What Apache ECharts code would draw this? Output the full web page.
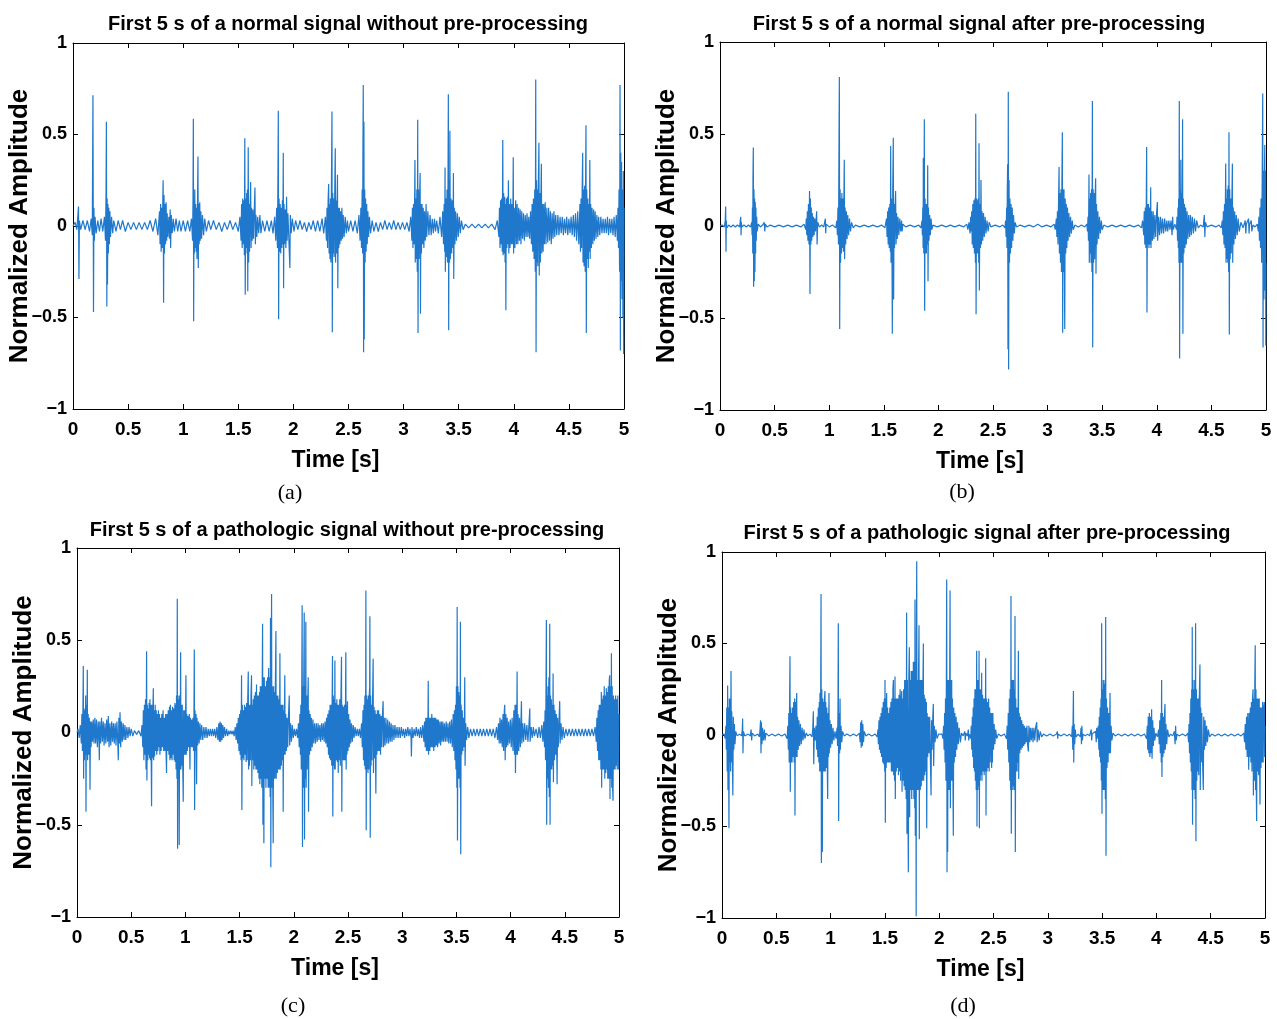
<!DOCTYPE html>
<html><head><meta charset="utf-8">
<script src="https://cdn.jsdelivr.net/npm/echarts@6/dist/echarts.min.js"></script>
<style>html,body{margin:0;padding:0;background:#fff}#c{width:1277px;height:1019px}</style>
</head><body><div id="c"></div>
<script>
// ---- text ----
const titles = [
  'First 5 s of a normal signal without pre-processing',
  'First 5 s of a normal signal after pre-processing',
  'First 5 s of a pathologic signal without pre-processing',
  'First 5 s of a pathologic signal after pre-processing'
];
const captions = ['(a)', '(b)', '(c)', '(d)'];
const xName = 'Time [s]';
const yName = 'Normalized Amplitude';
const xTicks = [0, 0.5, 1, 1.5, 2, 2.5, 3, 3.5, 4, 4.5, 5];
const yTicks = [-1, -0.5, 0, 0.5, 1];

// ---- signals: flat [time, amplitude, time, amplitude, ...] ----
const sigA = [
0,0, 0.02,0.02, 0.035,-0.02, 0.05,0.107, 0.054,-0.29, 0.058,0.03, 0.07,-0.02, 0.09,0.03, 0.11,-0.02, 0.13,0.03, 0.15,-0.03, 0.165,0.04, 0.175,-0.05,
0.181,0.714, 0.186,-0.47, 0.19,0.1, 0.194,-0.08, 0.2,0.05, 0.21,-0.04, 0.225,0.03, 0.24,-0.03, 0.255,0.04, 0.27,-0.03, 0.285,0.05, 0.295,-0.08,
0.3,0.2, 0.303,0.57, 0.307,-0.44, 0.31,0.15, 0.313,-0.32, 0.317,0.12, 0.321,-0.15, 0.325,0.1, 0.33,-0.1, 0.335,0.08, 0.34,-0.06, 0.35,0.05, 0.36,-0.04, 0.37,0.03,
0.39,-0.03, 0.41,0.03, 0.43,-0.02, 0.45,0.03, 0.475,-0.03, 0.5,0.02, 0.525,-0.02, 0.55,0.02, 0.575,-0.02, 0.6,0.02, 0.625,-0.02, 0.65,0.02, 0.675,-0.02, 0.7,0.03, 0.725,-0.03, 0.75,0.04, 0.77,-0.05,
0.785,0.08, 0.79,-0.1, 0.795,0.12, 0.8,-0.14, 0.805,0.1, 0.81,-0.12, 0.815,0.15, 0.818,0.25, 0.822,-0.42, 0.826,0.17, 0.83,-0.15, 0.835,0.12, 0.84,-0.1, 0.845,0.13, 0.85,-0.08, 0.855,0.07, 0.86,-0.06, 0.87,0.05, 0.875,-0.07, 0.882,0.09, 0.886,-0.12, 0.892,0.06, 0.9,-0.04,
0.91,0.04, 0.92,-0.03, 0.935,0.04, 0.95,-0.03, 0.965,0.03, 0.98,-0.03, 1.0,0.03, 1.02,-0.03, 1.04,0.03, 1.06,-0.03, 1.075,0.04, 1.085,-0.08,
1.089,0.15, 1.092,0.586, 1.095,-0.52, 1.098,0.12, 1.101,-0.15, 1.105,0.2, 1.108,-0.12, 1.113,0.12, 1.117,-0.14, 1.121,0.1, 1.125,-0.18, 1.13,0.14, 1.134,0.38, 1.137,-0.23, 1.14,0.12, 1.145,-0.1, 1.15,0.13, 1.155,-0.08, 1.16,0.08, 1.167,-0.07, 1.175,0.06, 1.185,-0.05, 1.195,0.04, 1.21,-0.03,
1.23,0.03, 1.25,-0.02, 1.275,0.03, 1.3,-0.02, 1.325,0.02, 1.35,-0.03, 1.375,0.02, 1.4,-0.02, 1.425,0.03, 1.45,-0.02, 1.475,0.02, 1.5,-0.03, 1.515,0.05,
1.525,-0.08, 1.53,0.12, 1.535,-0.12, 1.54,0.15, 1.545,-0.1, 1.55,0.14, 1.555,-0.16, 1.559,0.48, 1.563,-0.375, 1.567,0.15, 1.572,-0.12, 1.576,0.18, 1.58,-0.15, 1.583,0.2, 1.586,-0.357, 1.59,0.43, 1.594,-0.2, 1.598,0.12, 1.602,-0.14, 1.607,0.1, 1.612,0.24, 1.616,-0.12, 1.62,0.1, 1.626,-0.08, 1.632,0.09, 1.638,-0.07, 1.644,0.07, 1.651,0.21, 1.655,-0.1, 1.66,0.06, 1.668,-0.06, 1.676,0.05, 1.685,-0.04, 1.696,0.06, 1.705,-0.04,
1.72,0.03, 1.74,-0.03, 1.76,0.03, 1.78,-0.03, 1.8,0.03, 1.815,-0.04, 1.83,0.05, 1.84,-0.08, 1.848,0.1, 1.855,-0.12,
1.86,0.3, 1.863,0.63, 1.866,-0.51, 1.87,0.15, 1.875,-0.14, 1.88,0.12, 1.885,-0.15, 1.89,0.1, 1.895,-0.12, 1.9,0.14, 1.904,-0.1, 1.908,0.4, 1.911,-0.34, 1.915,0.12, 1.92,-0.1, 1.926,0.09, 1.932,-0.12, 1.938,0.16, 1.943,-0.08, 1.95,0.07, 1.958,-0.06, 1.968,-0.23, 1.972,0.06, 1.98,-0.04, 1.99,0.04,
2.005,-0.03, 2.02,0.03, 2.04,-0.02, 2.06,0.03, 2.08,-0.02, 2.1,0.02, 2.12,-0.03, 2.14,0.02, 2.16,-0.02, 2.18,0.03, 2.2,-0.03, 2.22,0.03, 2.24,-0.03, 2.26,0.04, 2.275,-0.04, 2.29,0.05,
2.3,-0.08, 2.305,0.1, 2.31,-0.12, 2.315,0.14, 2.32,0.23, 2.324,-0.15, 2.328,0.12, 2.332,-0.18, 2.336,0.15, 2.34,-0.2, 2.345,0.2, 2.35,0.625, 2.353,-0.58, 2.357,0.18, 2.361,-0.15, 2.365,0.15, 2.37,-0.17, 2.375,0.18, 2.38,0.425, 2.383,-0.2, 2.387,0.14, 2.392,-0.15, 2.396,0.12, 2.4,0.28, 2.403,-0.34, 2.407,0.1, 2.412,-0.12, 2.417,0.1, 2.422,-0.1, 2.428,0.08, 2.434,-0.08, 2.44,0.1, 2.446,-0.07, 2.452,0.06, 2.46,-0.06, 2.47,0.05, 2.48,-0.04, 2.49,0.03,
2.5,-0.03, 2.52,0.03, 2.54,-0.03, 2.56,0.03, 2.58,-0.04, 2.595,0.06, 2.605,-0.08, 2.612,0.1, 2.618,-0.12, 2.624,0.2, 2.628,-0.15, 2.631,0.44, 2.634,0.77, 2.637,-0.69, 2.64,0.57, 2.643,-0.62, 2.647,0.2, 2.651,-0.2, 2.655,0.15, 2.66,-0.14, 2.665,0.12, 2.67,-0.1, 2.676,0.08, 2.682,-0.06, 2.69,0.05, 2.7,-0.04, 2.715,0.03,
2.73,-0.03, 2.75,0.02, 2.77,-0.03, 2.79,0.02, 2.81,-0.02, 2.83,0.03, 2.85,-0.02, 2.87,0.02, 2.89,-0.02, 2.91,0.03, 2.93,-0.02, 2.95,0.02, 2.97,-0.02, 2.99,0.02, 3.01,-0.02, 3.03,0.02, 3.05,-0.03, 3.065,0.05,
3.075,-0.08, 3.08,0.1, 3.085,-0.12, 3.09,0.12, 3.095,-0.1, 3.1,0.15, 3.103,0.36, 3.106,-0.2, 3.11,0.15, 3.115,-0.18, 3.12,0.2, 3.124,-0.25, 3.128,0.58, 3.131,-0.585, 3.135,0.2, 3.14,-0.18, 3.145,0.15, 3.15,0.29, 3.153,-0.48, 3.157,0.12, 3.162,-0.15, 3.167,0.12, 3.172,-0.1, 3.178,0.1, 3.184,-0.12, 3.19,0.08, 3.197,-0.08, 3.204,0.12, 3.21,-0.06, 3.22,0.08, 3.23,-0.05, 3.24,0.06, 3.25,-0.05, 3.26,0.04, 3.27,-0.04, 3.28,0.04, 3.29,-0.03, 3.3,0.03, 3.315,-0.04, 3.33,0.05, 3.345,-0.06,
3.355,0.08, 3.362,-0.1, 3.368,0.12, 3.373,-0.14, 3.376,0.32, 3.379,-0.25, 3.384,0.15, 3.389,-0.17, 3.394,0.2, 3.398,-0.2, 3.403,0.25, 3.406,0.72, 3.409,-0.57, 3.413,0.25, 3.417,-0.2, 3.42,0.52, 3.424,-0.18, 3.43,0.15, 3.436,-0.15, 3.442,0.14, 3.448,-0.12, 3.452,0.29, 3.455,-0.29, 3.46,0.1, 3.466,-0.1, 3.472,0.08, 3.48,-0.08, 3.488,0.07, 3.496,-0.06, 3.505,0.05, 3.515,-0.04, 3.525,0.03, 3.54,-0.02,
3.56,0.01, 3.59,-0.01, 3.62,0.01, 3.65,-0.01, 3.68,0.01, 3.71,-0.01, 3.74,0.01, 3.77,-0.01, 3.8,0.01, 3.83,-0.02, 3.85,0.03,
3.865,-0.06, 3.87,0.1, 3.875,-0.12, 3.88,0.14, 3.885,-0.1, 3.89,0.15, 3.895,-0.14, 3.9,0.47, 3.903,-0.16, 3.908,0.18, 3.912,-0.15, 3.917,0.16, 3.921,-0.2, 3.925,0.12, 3.928,-0.46, 3.932,0.15, 3.937,-0.12, 3.942,0.16, 3.947,-0.1, 3.951,0.25, 3.955,-0.15, 3.96,0.12, 3.966,-0.12, 3.972,0.15, 3.978,-0.1, 3.984,0.12, 3.99,-0.1, 3.995,0.375, 3.998,-0.15,
4.004,0.1, 4.01,-0.12, 4.017,0.14, 4.024,-0.1, 4.03,0.12, 4.037,-0.1, 4.044,0.1, 4.051,-0.08, 4.058,0.09, 4.065,-0.1, 4.072,0.08, 4.08,-0.07, 4.088,0.07, 4.096,-0.08, 4.104,0.06, 4.112,-0.06, 4.12,0.07, 4.128,-0.06, 4.136,0.05, 4.144,-0.07, 4.152,0.08, 4.16,-0.1, 4.166,0.12, 4.172,-0.14, 4.178,0.15, 4.184,-0.18, 4.19,0.2, 4.195,-0.25,
4.199,0.8, 4.202,-0.69, 4.206,0.25, 4.21,-0.2, 4.214,0.2, 4.218,-0.22, 4.222,0.2, 4.228,0.455, 4.231,-0.27, 4.236,0.18, 4.241,-0.2, 4.246,0.16, 4.25,0.34, 4.254,-0.15, 4.26,0.12, 4.266,-0.14, 4.272,0.12, 4.278,-0.1, 4.285,0.13, 4.292,-0.1, 4.3,0.1, 4.308,-0.09, 4.316,0.1, 4.324,-0.08, 4.332,0.08, 4.34,-0.1, 4.348,0.07, 4.356,-0.07, 4.364,0.08, 4.372,-0.06, 4.38,0.06, 4.39,-0.05,
4.4,0.06, 4.41,-0.05, 4.42,0.05, 4.43,-0.04, 4.44,0.05, 4.45,-0.05, 4.46,0.04, 4.47,-0.04, 4.48,0.05, 4.49,-0.05, 4.5,0.04, 4.51,-0.04, 4.52,0.05, 4.53,-0.05, 4.54,0.06, 4.55,-0.06, 4.56,0.07, 4.57,-0.08, 4.58,0.08, 4.59,-0.1,
4.6,0.12, 4.605,-0.14, 4.61,0.15, 4.615,-0.12, 4.62,0.18, 4.625,0.4, 4.628,-0.2, 4.633,0.2, 4.638,-0.22, 4.643,0.22, 4.648,-0.25, 4.652,0.3, 4.655,0.55, 4.658,-0.585, 4.662,0.2, 4.667,-0.18, 4.672,0.15, 4.676,-0.23, 4.68,0.12, 4.685,-0.14, 4.69,0.36, 4.693,-0.18, 4.698,0.12, 4.704,-0.12, 4.71,0.1, 4.717,-0.1, 4.724,0.09, 4.731,-0.08, 4.738,0.08, 4.746,-0.07, 4.754,0.06, 4.762,-0.06, 4.77,0.05, 4.78,-0.05,
4.79,0.05, 4.8,-0.04, 4.81,0.04, 4.82,-0.04, 4.83,0.04, 4.84,-0.04, 4.85,0.05, 4.86,-0.05, 4.87,0.04, 4.88,-0.04, 4.89,0.04, 4.9,-0.05, 4.91,0.05, 4.92,-0.06, 4.93,0.06, 4.94,-0.08, 4.945,0.1, 4.95,-0.12, 4.955,0.2, 4.96,-0.25,
4.964,0.77, 4.967,-0.68, 4.971,0.4, 4.974,-0.3, 4.978,0.35, 4.982,-0.4, 4.986,0.2, 4.99,-0.5, 4.994,0.3, 4.997,-0.7, 5.0,0.1
];

const sigB = [
0,0, 0.02,0.005, 0.04,-0.005, 0.048,0.03, 0.052,0.106, 0.055,-0.14, 0.058,0.03, 0.062,-0.01, 0.08,0.005, 0.1,-0.005, 0.12,0.005, 0.14,-0.005, 0.16,0.005, 0.18,-0.005,
0.186,0.03, 0.19,0.05, 0.193,-0.05, 0.196,0.02, 0.2,-0.005, 0.22,0.005, 0.24,-0.005, 0.26,0.005, 0.28,-0.005, 0.29,0.02, 0.294,-0.05,
0.297,0.1, 0.3,-0.15, 0.302,0.27, 0.305,0.426, 0.308,-0.33, 0.311,0.2, 0.314,-0.3, 0.317,0.15, 0.32,-0.25, 0.323,0.13, 0.326,-0.15, 0.329,0.1, 0.332,-0.08, 0.336,0.05, 0.34,-0.03, 0.35,0.01, 0.37,-0.005, 0.39,0.005,
0.405,0.02, 0.41,-0.03, 0.415,0.01, 0.43,-0.005, 0.46,0.005, 0.5,-0.005, 0.54,0.005, 0.58,-0.005, 0.62,0.005, 0.66,-0.005, 0.7,0.005, 0.74,-0.005, 0.77,0.01, 0.785,-0.02,
0.79,0.04, 0.795,-0.05, 0.8,0.08, 0.805,-0.08, 0.81,0.12, 0.815,-0.1, 0.82,0.19, 0.824,-0.37, 0.828,0.15, 0.832,-0.1, 0.836,0.1, 0.84,-0.08, 0.845,0.07, 0.85,-0.06, 0.856,0.05, 0.862,-0.05, 0.868,0.04, 0.874,-0.03, 0.885,0.08, 0.889,-0.1, 0.895,0.02,
0.91,-0.005, 0.93,0.005, 0.95,-0.005, 0.965,0.04, 0.968,-0.04, 0.972,0.01, 1.0,-0.005, 1.03,0.005, 1.06,-0.01,
1.07,0.03, 1.075,-0.05, 1.08,0.1, 1.085,-0.1, 1.09,0.5, 1.093,0.81, 1.096,-0.56, 1.1,0.2, 1.104,-0.2, 1.108,0.15, 1.112,-0.15, 1.116,0.18, 1.12,-0.12, 1.125,0.15, 1.13,-0.14, 1.134,0.12, 1.138,0.36, 1.141,-0.18, 1.146,0.1, 1.151,-0.1, 1.157,0.08, 1.164,-0.07, 1.17,0.06, 1.178,-0.05, 1.186,0.04, 1.195,-0.03, 1.205,0.02, 1.22,-0.01, 1.24,0.005,
1.28,-0.005, 1.32,0.005, 1.36,-0.005, 1.4,0.005, 1.44,-0.005, 1.48,0.005, 1.51,-0.01,
1.525,0.04, 1.53,-0.06, 1.535,0.08, 1.54,-0.1, 1.545,0.1, 1.55,-0.12, 1.555,0.12, 1.56,-0.14, 1.563,0.435, 1.566,-0.2, 1.57,0.15, 1.575,-0.15, 1.578,-0.585, 1.582,0.2, 1.587,0.48, 1.59,-0.4, 1.594,0.12, 1.598,-0.12, 1.603,0.1, 1.608,0.19, 1.612,-0.1, 1.617,0.07, 1.623,-0.07, 1.63,0.05, 1.638,-0.05, 1.646,0.04, 1.655,-0.03, 1.663,0.03, 1.667,-0.03, 1.675,0.01, 1.7,-0.005,
1.74,0.005, 1.78,-0.005, 1.82,0.005, 1.84,-0.01, 1.85,0.03,
1.853,-0.05, 1.857,0.1, 1.86,-0.12, 1.862,0.37, 1.866,-0.15, 1.869,0.2, 1.871,0.58, 1.874,-0.46, 1.878,0.15, 1.882,-0.15, 1.886,0.12, 1.89,-0.15, 1.894,0.12, 1.898,-0.1, 1.902,0.33, 1.905,-0.3, 1.909,0.1, 1.914,-0.08, 1.92,0.06, 1.926,-0.05, 1.933,0.04, 1.94,-0.02, 1.95,0.005,
1.99,-0.005, 2.03,0.005, 2.07,-0.005, 2.11,0.005, 2.15,-0.005, 2.19,0.005, 2.23,-0.005, 2.26,0.01, 2.27,-0.02, 2.28,0.02,
2.29,-0.04, 2.295,0.05, 2.3,-0.03, 2.305,0.08, 2.31,-0.1, 2.315,0.12, 2.32,-0.12, 2.325,0.14, 2.33,-0.15, 2.335,0.15, 2.339,-0.2, 2.342,0.61, 2.345,-0.48, 2.349,0.15, 2.353,-0.15, 2.357,0.14, 2.361,-0.15, 2.365,0.15, 2.369,-0.2, 2.372,0.45, 2.375,-0.35, 2.38,0.12, 2.385,-0.12, 2.39,0.25, 2.394,-0.1, 2.4,0.08, 2.406,-0.08, 2.413,0.07, 2.42,-0.06, 2.428,0.05, 2.436,-0.04, 2.445,0.03, 2.455,-0.03, 2.465,0.02, 2.48,-0.005,
2.52,0.005, 2.56,-0.005, 2.59,0.005, 2.61,-0.01, 2.615,0.03,
2.62,-0.06, 2.625,0.1, 2.628,-0.12, 2.631,0.2, 2.634,0.335, 2.637,-0.67, 2.64,0.73, 2.643,-0.78, 2.647,0.25, 2.651,-0.2, 2.655,0.15, 2.66,-0.15, 2.665,0.12, 2.67,-0.12, 2.676,0.1, 2.682,-0.08, 2.688,0.06, 2.695,-0.04, 2.703,0.02, 2.715,-0.005,
2.75,0.005, 2.79,-0.005, 2.83,0.005, 2.87,-0.005, 2.91,0.01, 2.95,-0.005, 2.99,0.005, 3.03,-0.005, 3.06,0.01, 3.07,-0.02,
3.08,0.04, 3.085,-0.06, 3.09,0.08, 3.095,-0.1, 3.1,0.12, 3.105,0.32, 3.108,-0.15, 3.113,0.18, 3.118,-0.2, 3.123,0.2, 3.127,-0.25, 3.131,0.25, 3.135,0.51, 3.138,-0.58, 3.142,0.2, 3.146,-0.25, 3.15,0.2, 3.154,0.21, 3.157,-0.56, 3.161,0.15, 3.166,-0.15, 3.171,0.12, 3.176,-0.12, 3.182,0.1, 3.188,-0.08, 3.195,0.07, 3.202,-0.06, 3.21,0.05, 3.218,-0.04, 3.226,0.03, 3.235,-0.02, 3.25,0.005,
3.28,-0.005, 3.31,0.005, 3.34,-0.005, 3.36,0.01, 3.365,-0.03,
3.37,0.05, 3.374,-0.08, 3.377,0.12, 3.379,0.28, 3.382,-0.2, 3.386,0.15, 3.39,-0.15, 3.394,0.18, 3.398,-0.2, 3.402,0.2, 3.406,-0.25, 3.41,0.68, 3.413,-0.66, 3.417,0.2, 3.421,-0.2, 3.425,0.18, 3.43,-0.18, 3.435,0.15, 3.44,0.26, 3.443,-0.26, 3.448,0.12, 3.453,-0.1, 3.46,0.08, 3.467,-0.07, 3.475,0.05, 3.483,-0.04, 3.492,0.03, 3.5,-0.02, 3.515,0.005,
3.55,-0.005, 3.59,0.005, 3.63,-0.005, 3.67,0.005, 3.71,-0.005, 3.75,0.005, 3.79,-0.005, 3.83,0.005, 3.86,-0.01, 3.87,0.03,
3.88,-0.05, 3.885,0.08, 3.89,-0.1, 3.895,0.1, 3.9,-0.12, 3.904,0.15, 3.907,0.43, 3.91,-0.47, 3.914,0.12, 3.918,-0.1, 3.923,0.12, 3.928,-0.12, 3.933,0.1, 3.938,-0.1, 3.944,0.21, 3.947,-0.12, 3.953,0.08, 3.96,-0.08, 3.967,0.08, 3.974,-0.07, 3.982,0.06, 3.99,-0.06, 3.998,0.07, 4.005,0.13, 4.008,-0.08, 4.016,0.05, 4.025,-0.05, 4.034,0.05, 4.043,-0.04, 4.052,0.04, 4.062,-0.04, 4.072,0.04, 4.082,-0.03, 4.092,0.03, 4.1,-0.03, 4.11,0.03, 4.12,-0.02, 4.13,0.03, 4.14,-0.05, 4.145,0.05, 4.15,-0.02, 4.165,0.01, 4.18,-0.02,
4.185,0.05, 4.19,-0.08, 4.194,0.1, 4.197,-0.12, 4.2,0.15, 4.203,-0.2, 4.206,0.68, 4.209,-0.72, 4.213,0.2, 4.217,-0.2, 4.22,0.36, 4.224,-0.2, 4.228,0.18, 4.232,-0.2, 4.236,0.58, 4.239,-0.585, 4.243,0.15, 4.248,-0.15, 4.253,0.12, 4.258,-0.12, 4.264,0.1, 4.27,-0.1, 4.277,0.08, 4.284,-0.07, 4.292,0.06, 4.3,-0.06, 4.308,0.06, 4.316,-0.05, 4.325,0.05, 4.335,-0.04, 4.345,0.04, 4.355,-0.03, 4.365,0.03, 4.38,-0.01, 4.4,0.005, 4.425,-0.005, 4.435,0.06, 4.44,-0.06, 4.445,0.02, 4.46,-0.005,
4.5,0.005, 4.54,-0.005, 4.57,0.005, 4.59,-0.01,
4.6,0.03, 4.605,-0.05, 4.61,0.08, 4.615,-0.1, 4.62,0.12, 4.625,-0.12, 4.631,0.34, 4.634,-0.2, 4.638,0.15, 4.642,-0.18, 4.646,0.2, 4.65,-0.2, 4.654,0.22, 4.658,-0.25, 4.661,0.51, 4.664,-0.59, 4.668,0.2, 4.672,-0.18, 4.677,0.15, 4.682,-0.15, 4.687,0.12, 4.692,0.34, 4.695,-0.2, 4.7,0.1, 4.706,-0.1, 4.713,0.08, 4.72,-0.07, 4.728,0.06, 4.736,-0.05, 4.745,0.04, 4.755,-0.03, 4.77,0.02, 4.79,-0.01,
4.81,0.03, 4.815,-0.04, 4.82,0.01, 4.84,0.04, 4.845,-0.04, 4.85,0.01, 4.865,0.03, 4.87,-0.03, 4.88,0.005, 4.9,-0.005, 4.92,0.01, 4.93,-0.03, 4.935,0.05,
4.94,-0.08, 4.945,0.1, 4.95,-0.12, 4.955,0.15, 4.96,-0.2, 4.965,0.25, 4.97,0.72, 4.973,-0.66, 4.977,0.3, 4.981,-0.4, 4.985,0.25, 4.989,0.44, 4.992,-0.35, 4.996,0.3, 4.998,-0.65, 5.0,-0.2
];

const sigC = [
0,0, 0.01,0.02, 0.02,-0.03, 0.03,0.04, 0.04,-0.06, 0.045,0.1, 0.05,-0.1, 0.055,0.15, 0.058,0.36, 0.061,-0.25, 0.065,0.12, 0.069,-0.15, 0.073,0.13, 0.077,-0.12, 0.08,0.2, 0.083,-0.43, 0.087,0.15, 0.091,-0.12, 0.095,0.34, 0.098,-0.15, 0.103,0.1, 0.108,-0.12, 0.113,0.08, 0.118,-0.08, 0.12,-0.31, 0.124,0.06, 0.13,-0.08,
0.136,0.06, 0.143,-0.05, 0.15,0.07, 0.157,-0.06, 0.165,0.08, 0.172,-0.06, 0.18,0.07, 0.188,-0.08, 0.196,0.06, 0.203,-0.05, 0.206,-0.15, 0.21,0.06, 0.218,-0.06, 0.226,0.08, 0.234,-0.05, 0.242,0.06, 0.25,-0.07, 0.258,0.05, 0.266,-0.06, 0.274,0.07, 0.282,-0.05, 0.289,0.09, 0.296,-0.08, 0.304,0.05, 0.312,-0.07, 0.32,0.06, 0.328,-0.05, 0.336,0.05, 0.344,-0.06, 0.352,0.05, 0.36,-0.07, 0.368,0.06, 0.376,-0.05, 0.381,-0.15, 0.386,0.08, 0.392,-0.06, 0.397,0.11, 0.403,-0.08, 0.41,0.06, 0.418,-0.05, 0.426,0.05, 0.434,-0.04, 0.442,0.04, 0.45,-0.04, 0.46,0.03, 0.47,-0.03, 0.48,0.03, 0.49,-0.02, 0.5,0.02, 0.515,-0.02, 0.53,0.01, 0.55,-0.01, 0.57,0.01, 0.59,-0.02, 0.6,0.04,
0.607,-0.08, 0.612,0.12, 0.617,-0.15, 0.622,0.15, 0.627,-0.12, 0.632,0.18, 0.637,-0.2, 0.642,0.44, 0.645,-0.26, 0.649,0.15, 0.653,-0.15, 0.657,0.13, 0.661,-0.12, 0.665,0.16, 0.669,-0.14, 0.673,0.18, 0.677,-0.15, 0.681,0.15, 0.685,-0.18, 0.688,-0.4, 0.692,0.15, 0.696,-0.14, 0.7,0.12, 0.704,0.24, 0.707,-0.15, 0.711,0.12, 0.716,-0.13, 0.721,0.15, 0.726,-0.1, 0.731,0.12, 0.736,-0.12, 0.741,0.1, 0.746,-0.1, 0.751,0.12, 0.756,-0.08, 0.761,0.1, 0.765,-0.12, 0.77,0.08, 0.776,-0.1, 0.782,0.1, 0.788,-0.08, 0.794,0.12, 0.8,-0.1, 0.806,0.08, 0.812,-0.1, 0.818,0.1, 0.822,-0.12, 0.826,-0.22, 0.83,0.1, 0.836,-0.1, 0.842,0.12, 0.848,-0.12, 0.853,0.14, 0.857,-0.15, 0.862,0.15, 0.867,-0.14, 0.872,0.12, 0.877,-0.15, 0.882,0.14, 0.887,-0.12, 0.892,0.13, 0.897,-0.15, 0.903,0.16, 0.906,-0.16, 0.91,0.15, 0.914,-0.2, 0.918,0.2, 0.922,-0.25,
0.925,0.725, 0.928,-0.63, 0.932,0.2, 0.936,-0.25, 0.94,0.18, 0.943,-0.61, 0.947,0.2, 0.951,-0.2, 0.956,0.435, 0.959,-0.2, 0.963,0.15, 0.967,-0.18, 0.971,0.15, 0.975,-0.15, 0.98,-0.375, 0.984,0.12, 0.989,-0.12, 0.994,0.12, 0.999,-0.12, 1.005,0.31, 1.008,-0.12, 1.013,0.1, 1.018,-0.1, 1.024,0.09, 1.03,-0.08, 1.036,0.1, 1.042,-0.2, 1.046,0.08, 1.052,-0.08, 1.058,0.07, 1.064,-0.08, 1.07,0.08, 1.075,-0.1, 1.079,0.12, 1.082,0.45, 1.085,-0.42, 1.089,0.12, 1.094,-0.1, 1.098,0.1, 1.103,-0.28, 1.107,0.08, 1.113,-0.07, 1.12,0.06, 1.127,-0.06, 1.134,0.05, 1.142,-0.04,
1.15,0.04, 1.16,-0.04, 1.17,0.03, 1.18,-0.03, 1.19,0.03, 1.2,-0.03, 1.21,0.02, 1.22,-0.02, 1.23,0.02, 1.24,-0.02, 1.25,0.02, 1.26,-0.02, 1.27,0.02, 1.28,-0.03, 1.29,0.03, 1.3,-0.04, 1.308,0.05, 1.314,-0.05, 1.32,0.06, 1.326,-0.05, 1.332,0.05, 1.338,-0.04, 1.345,0.04, 1.352,-0.03, 1.36,0.03, 1.37,-0.02, 1.38,0.02, 1.39,-0.02, 1.4,0.01, 1.41,-0.01, 1.42,0.01, 1.43,-0.01, 1.44,0.01, 1.45,-0.02, 1.46,0.03, 1.468,-0.04, 1.475,0.05, 1.482,-0.06, 1.488,0.08, 1.494,-0.1, 1.5,0.1, 1.505,-0.12, 1.51,0.12, 1.514,-0.15,
1.518,0.31, 1.521,-0.42, 1.525,0.15, 1.53,-0.14, 1.535,0.12, 1.54,-0.15, 1.545,0.15, 1.55,-0.12, 1.555,0.14, 1.56,-0.16, 1.565,0.16, 1.57,-0.15, 1.575,0.18, 1.58,0.33, 1.583,-0.2, 1.587,0.15, 1.591,-0.18, 1.595,0.15, 1.6,-0.15, 1.605,0.2, 1.61,0.31, 1.613,-0.29, 1.617,0.15, 1.621,-0.15, 1.626,0.18, 1.631,-0.2, 1.636,0.2, 1.641,-0.18, 1.646,0.22, 1.651,-0.2, 1.656,0.26, 1.659,-0.2, 1.664,0.2, 1.669,-0.22, 1.674,0.2, 1.679,-0.25, 1.684,0.22, 1.687,-0.28, 1.691,0.25, 1.695,-0.25, 1.7,0.25, 1.705,-0.3, 1.709,0.3,
1.712,0.59, 1.715,-0.5, 1.719,0.3, 1.724,-0.6, 1.728,0.3, 1.733,-0.25, 1.738,0.25, 1.743,-0.3, 1.748,0.28, 1.753,-0.25, 1.758,0.3, 1.763,-0.3, 1.768,0.35, 1.773,-0.3, 1.778,0.3, 1.782,-0.35, 1.785,0.62, 1.788,-0.73, 1.792,0.3, 1.795,0.75, 1.798,-0.3, 1.802,0.25, 1.806,-0.3, 1.81,-0.6, 1.814,0.25, 1.818,-0.25, 1.822,0.22, 1.826,-0.25, 1.83,0.25, 1.835,0.55, 1.838,-0.25, 1.843,0.2, 1.848,-0.22, 1.853,0.2, 1.858,-0.2, 1.863,0.18, 1.867,-0.2, 1.872,0.43, 1.875,-0.2, 1.88,0.15, 1.885,-0.18, 1.89,0.15, 1.895,-0.15, 1.9,0.15, 1.902,-0.43, 1.906,0.12, 1.911,-0.12, 1.917,0.31, 1.92,-0.12, 1.926,0.1, 1.932,-0.1, 1.938,0.08, 1.944,-0.08, 1.95,0.07, 1.958,0.2, 1.962,-0.07, 1.97,0.05, 1.978,-0.05, 1.986,0.04, 1.995,-0.03, 2.005,0.02, 2.015,-0.02, 2.025,0.02, 2.035,-0.03,
2.043,0.05, 2.05,-0.08, 2.056,0.1, 2.061,-0.12, 2.065,0.15, 2.069,-0.2, 2.073,0.2, 2.077,0.69, 2.08,-0.62, 2.084,0.25, 2.088,-0.3, 2.092,0.3, 2.096,0.65, 2.099,-0.58, 2.103,0.25, 2.107,-0.25, 2.111,0.6, 2.114,-0.3, 2.118,0.2, 2.123,-0.2, 2.128,0.15, 2.133,0.3, 2.136,-0.43, 2.14,0.12, 2.145,-0.12, 2.151,0.1, 2.157,-0.1, 2.163,0.08, 2.17,-0.08, 2.177,0.07, 2.184,-0.06, 2.192,0.05, 2.2,-0.06, 2.208,0.05, 2.216,-0.05, 2.224,0.05, 2.232,-0.04, 2.24,0.04, 2.248,-0.05, 2.256,0.05, 2.264,-0.04, 2.272,0.05, 2.28,-0.05, 2.288,0.06, 2.295,-0.06,
2.302,0.08, 2.308,-0.08, 2.314,0.1, 2.32,-0.12, 2.325,0.12, 2.33,-0.14, 2.335,0.15, 2.34,-0.15, 2.345,0.15, 2.35,-0.18, 2.354,0.2, 2.357,0.415, 2.36,-0.455, 2.364,0.2, 2.368,-0.18, 2.372,0.18, 2.376,-0.2, 2.379,0.39, 2.382,-0.2, 2.387,0.16, 2.392,-0.15, 2.397,0.18, 2.402,-0.16, 2.406,0.15, 2.41,-0.22, 2.414,0.15, 2.419,-0.15, 2.424,0.18, 2.429,-0.18, 2.434,0.16, 2.44,0.41, 2.443,-0.43, 2.447,0.15, 2.452,-0.15, 2.457,0.14, 2.462,-0.15, 2.467,0.15, 2.472,-0.15, 2.477,0.15, 2.48,0.435, 2.483,-0.2, 2.487,0.15, 2.49,-0.12, 2.495,0.17, 2.5,-0.1, 2.506,0.1, 2.512,-0.08, 2.518,0.07, 2.525,-0.06, 2.532,0.05, 2.54,-0.05, 2.548,0.04, 2.556,-0.03, 2.565,0.03, 2.575,-0.02, 2.585,0.02, 2.595,-0.02, 2.605,0.02, 2.615,-0.03,
2.625,0.05, 2.632,-0.08, 2.638,0.12, 2.643,-0.15, 2.648,0.15, 2.652,-0.18, 2.656,0.2, 2.66,-0.2, 2.663,0.25, 2.665,0.77, 2.668,-0.53, 2.672,0.2, 2.676,-0.2, 2.68,0.18, 2.684,-0.22, 2.688,0.2, 2.692,-0.2, 2.696,0.2, 2.7,0.25, 2.702,0.63, 2.705,-0.57, 2.709,0.2, 2.713,-0.18, 2.717,0.15, 2.721,-0.15, 2.726,0.15, 2.732,0.4, 2.735,-0.22, 2.74,0.14, 2.745,-0.14, 2.75,0.12, 2.757,-0.33, 2.761,0.1, 2.766,-0.12, 2.771,0.12, 2.776,-0.1, 2.782,0.12, 2.788,-0.1, 2.794,0.1, 2.8,-0.12, 2.806,0.09, 2.812,-0.08, 2.818,0.1, 2.824,0.17, 2.828,-0.08, 2.835,0.08, 2.842,-0.07, 2.85,0.08, 2.858,-0.06, 2.866,0.07, 2.874,-0.06, 2.882,0.06, 2.89,-0.05, 2.898,0.05, 2.906,-0.05, 2.915,0.04, 2.924,-0.04, 2.933,0.04, 2.942,-0.03, 2.952,0.03, 2.962,-0.03, 2.972,0.03, 2.982,-0.03, 2.992,0.03,
3.002,-0.02, 3.012,0.02, 3.022,-0.03, 3.032,0.02, 3.042,-0.02, 3.052,0.03, 3.062,-0.02, 3.072,0.02, 3.082,-0.03, 3.085,-0.13, 3.09,0.03, 3.1,-0.03, 3.11,0.02, 3.12,-0.02, 3.13,0.03, 3.14,-0.02, 3.15,0.02, 3.16,-0.03, 3.17,0.03, 3.18,-0.03, 3.19,0.04, 3.2,-0.05,
3.206,0.06, 3.212,-0.08, 3.218,0.08, 3.224,-0.1, 3.23,0.08, 3.236,-0.1, 3.24,0.28, 3.243,-0.12, 3.249,0.08, 3.255,-0.1, 3.261,0.08, 3.267,-0.08, 3.273,0.1, 3.279,-0.08, 3.285,0.08, 3.291,-0.1, 3.297,0.08, 3.303,-0.08, 3.309,0.08, 3.315,-0.07, 3.321,0.07, 3.327,-0.08, 3.333,0.07, 3.34,-0.06, 3.347,0.06, 3.354,-0.07, 3.361,0.06, 3.368,-0.05, 3.375,0.06, 3.382,-0.05, 3.39,0.05, 3.398,-0.05, 3.406,0.06, 3.414,-0.05, 3.422,0.05, 3.43,-0.06, 3.438,0.06, 3.446,-0.06, 3.454,0.07, 3.462,-0.08, 3.47,0.1, 3.476,-0.1, 3.482,0.12, 3.487,-0.15, 3.492,0.15, 3.496,-0.2, 3.5,0.25, 3.504,-0.3,
3.507,0.68, 3.51,-0.585, 3.514,0.25, 3.518,-0.25, 3.522,0.22, 3.526,-0.25, 3.53,0.2, 3.534,-0.3, 3.537,0.6, 3.54,-0.66, 3.544,0.15, 3.549,-0.12, 3.554,0.12, 3.56,-0.1, 3.566,0.08, 3.572,-0.08, 3.577,0.3, 3.58,-0.18, 3.586,0.05, 3.594,-0.04, 3.604,0.03, 3.615,-0.03,
3.63,0.02, 3.645,-0.02, 3.66,0.02, 3.675,-0.02, 3.69,0.02, 3.705,-0.02, 3.72,0.02, 3.735,-0.02, 3.75,0.02, 3.765,-0.02, 3.78,0.02, 3.795,-0.02, 3.81,0.02, 3.825,-0.02, 3.84,0.02, 3.855,-0.03, 3.87,0.03, 3.88,-0.04,
3.888,0.05, 3.895,-0.06, 3.902,0.08, 3.909,-0.06, 3.916,0.07, 3.923,-0.08, 3.93,0.1, 3.936,-0.1, 3.942,0.12, 3.946,0.15, 3.95,-0.15, 3.956,0.1, 3.962,-0.08, 3.968,0.08, 3.975,-0.07, 3.982,0.06, 3.99,-0.06, 3.998,0.07, 4.006,-0.08, 4.014,0.08, 4.022,-0.1, 4.03,0.12, 4.036,-0.12, 4.041,0.15, 4.045,-0.22, 4.05,0.15, 4.055,-0.12, 4.06,0.33, 4.063,-0.12, 4.069,0.1, 4.075,-0.1, 4.082,0.08, 4.09,-0.08, 4.1,0.17, 4.104,-0.06, 4.112,0.05, 4.12,-0.05, 4.13,0.05, 4.14,-0.04, 4.15,0.04, 4.16,-0.05, 4.17,0.05, 4.177,0.13, 4.18,-0.05, 4.19,0.03, 4.2,-0.03, 4.21,0.03, 4.22,-0.02, 4.235,0.02, 4.25,-0.03, 4.262,0.03, 4.275,-0.03, 4.288,0.04, 4.298,-0.05,
4.306,0.06, 4.313,-0.08, 4.318,0.12, 4.322,-0.15, 4.326,0.18, 4.33,0.61, 4.333,-0.5, 4.337,0.2, 4.341,-0.25, 4.345,0.25, 4.349,-0.3, 4.353,0.3, 4.357,-0.35, 4.361,0.59, 4.364,-0.5, 4.368,0.2, 4.372,-0.2, 4.376,0.18, 4.38,-0.2, 4.384,0.15, 4.388,-0.18, 4.392,0.32, 4.395,-0.27, 4.4,0.15, 4.405,-0.15, 4.41,0.12, 4.416,-0.12, 4.422,0.1, 4.429,-0.28, 4.433,0.08, 4.44,-0.08, 4.447,0.07, 4.453,0.17, 4.457,-0.06, 4.465,0.05, 4.474,-0.04, 4.484,0.03, 4.495,-0.03,
4.51,0.02, 4.525,-0.02, 4.54,0.02, 4.555,-0.02, 4.57,0.02, 4.585,-0.02, 4.6,0.02, 4.615,-0.02, 4.63,0.02, 4.645,-0.02, 4.66,0.02, 4.675,-0.02, 4.69,0.02, 4.705,-0.02, 4.72,0.02, 4.735,-0.02, 4.75,0.02, 4.765,-0.02, 4.78,0.03, 4.79,-0.05,
4.796,0.08, 4.802,-0.1, 4.808,0.12, 4.813,-0.15, 4.818,0.15, 4.823,-0.15, 4.828,0.15, 4.833,-0.2, 4.837,0.22, 4.84,-0.3, 4.844,0.18, 4.849,-0.2, 4.854,0.2, 4.859,-0.2, 4.864,0.25, 4.869,-0.25, 4.874,0.2, 4.878,-0.22, 4.883,0.24, 4.886,-0.2, 4.891,0.22, 4.896,-0.25, 4.901,0.25, 4.906,-0.25, 4.91,0.28, 4.914,0.31, 4.917,-0.36, 4.921,0.25, 4.926,-0.25, 4.93,0.43, 4.933,-0.3, 4.937,0.25, 4.941,-0.3, 4.945,-0.37, 4.949,0.2, 4.954,-0.2, 4.959,0.18, 4.964,-0.2, 4.969,0.2, 4.974,-0.18, 4.979,0.18, 4.984,-0.2, 4.989,0.2, 4.993,0.21, 4.997,-0.2, 5.0,0.1
];

const sigD = [
0,0, 0.02,0.005, 0.03,-0.02, 0.036,0.05, 0.04,-0.08, 0.044,0.15, 0.048,-0.2, 0.052,0.27, 0.055,-0.3, 0.059,0.15, 0.064,-0.51, 0.068,0.2, 0.072,-0.15, 0.076,0.2, 0.079,-0.2, 0.083,0.35, 0.086,-0.15, 0.09,0.13, 0.095,-0.12, 0.1,-0.33, 0.104,0.1, 0.109,-0.08, 0.114,0.06, 0.12,-0.05, 0.126,0.02,
0.14,-0.005, 0.16,0.005, 0.18,-0.005, 0.187,0.03, 0.19,0.09, 0.193,-0.1, 0.197,0.02, 0.21,-0.005, 0.24,0.005, 0.26,-0.005, 0.268,0.03, 0.273,-0.03, 0.278,0.01, 0.3,-0.005, 0.33,0.005, 0.345,-0.01, 0.35,0.03, 0.355,0.08, 0.359,-0.1, 0.363,0.07, 0.368,-0.05, 0.373,0.04, 0.38,-0.03, 0.39,0.03, 0.396,-0.03, 0.405,0.01,
0.43,-0.005, 0.46,0.005, 0.49,-0.005, 0.52,0.005, 0.55,-0.005, 0.58,0.005, 0.6,-0.02, 0.606,0.05,
0.611,-0.08, 0.615,0.12, 0.619,-0.15, 0.622,0.15, 0.626,0.43, 0.629,-0.31, 0.633,0.15, 0.637,-0.15, 0.641,0.12, 0.645,-0.15, 0.65,0.15, 0.655,-0.12, 0.66,0.18, 0.665,-0.15, 0.669,0.2, 0.672,-0.44, 0.676,0.18, 0.68,-0.12, 0.684,0.15, 0.688,0.23, 0.691,-0.12, 0.696,0.1, 0.702,-0.08, 0.708,0.08, 0.715,-0.06, 0.722,0.06, 0.73,-0.05, 0.738,0.04, 0.746,-0.03, 0.755,0.03, 0.764,-0.02, 0.775,0.01, 0.79,-0.005, 0.81,0.005, 0.83,-0.01,
0.836,0.04, 0.841,0.13, 0.845,-0.16, 0.85,0.04, 0.858,-0.03, 0.865,0.05, 0.872,-0.08, 0.877,0.1, 0.882,-0.12, 0.887,0.15, 0.892,-0.15, 0.896,0.18, 0.9,-0.2, 0.902,0.23, 0.906,-0.2, 0.909,0.25, 0.912,0.77, 0.915,-0.7, 0.919,0.25, 0.924,-0.64, 0.928,0.2, 0.932,-0.2, 0.936,0.18, 0.94,-0.2, 0.944,0.2, 0.948,0.24, 0.951,-0.2, 0.955,0.18, 0.96,-0.18, 0.965,0.15, 0.969,-0.15, 0.973,-0.35, 0.977,0.12, 0.981,-0.12, 0.985,0.23, 0.988,-0.1, 0.994,0.08, 1.0,-0.07, 1.007,0.06, 1.014,-0.05, 1.022,0.04, 1.03,-0.03, 1.04,0.02, 1.05,-0.02,
1.06,0.04, 1.064,-0.06, 1.068,0.15, 1.071,0.61, 1.074,-0.47, 1.078,0.12, 1.083,-0.1, 1.087,0.2, 1.09,-0.08, 1.096,0.05, 1.103,-0.04, 1.11,0.02, 1.125,-0.005, 1.15,0.005, 1.18,-0.005, 1.21,0.005, 1.24,-0.005, 1.265,0.01,
1.272,-0.04, 1.277,0.07, 1.282,-0.07, 1.287,0.08, 1.292,-0.06, 1.297,0.06, 1.303,-0.04, 1.31,0.02, 1.325,-0.005, 1.35,0.005, 1.38,-0.005, 1.41,0.005, 1.43,-0.01,
1.436,0.03, 1.44,-0.05, 1.445,0.08, 1.45,-0.08, 1.455,0.1, 1.46,-0.1, 1.465,0.12, 1.47,-0.12, 1.475,0.15, 1.48,-0.15, 1.485,0.18, 1.49,-0.16, 1.495,0.2, 1.498,-0.2, 1.501,0.3, 1.504,-0.48, 1.508,0.2, 1.512,-0.18, 1.516,0.23, 1.52,-0.15, 1.525,0.15, 1.53,-0.15, 1.535,0.12, 1.54,-0.15, 1.545,0.15, 1.55,-0.15, 1.555,0.18, 1.56,-0.2, 1.565,0.2, 1.57,-0.2, 1.574,0.25, 1.578,0.3, 1.581,-0.22, 1.585,0.2, 1.589,-0.25, 1.593,0.32, 1.596,-0.35, 1.6,0.2, 1.605,-0.2, 1.61,0.2, 1.615,-0.18, 1.62,0.2, 1.625,-0.22, 1.63,0.22, 1.635,-0.2, 1.64,0.25, 1.645,-0.25, 1.65,0.2, 1.655,0.24, 1.658,-0.31, 1.662,0.2, 1.667,-0.25, 1.672,0.25, 1.677,-0.28, 1.682,0.3, 1.687,-0.3, 1.692,0.3, 1.696,-0.35,
1.7,0.67, 1.703,-0.54, 1.707,0.3, 1.711,-0.3, 1.716,-0.75, 1.72,0.3, 1.725,0.48, 1.728,-0.45, 1.732,0.3, 1.737,-0.3, 1.742,0.35, 1.747,-0.35, 1.752,0.35, 1.757,-0.3, 1.762,0.4, 1.767,-0.35, 1.772,0.4, 1.775,-0.4, 1.777,0.74, 1.78,-0.55, 1.784,0.4, 1.788,-0.99, 1.79,0.5, 1.793,0.95, 1.796,-0.3, 1.8,0.3, 1.805,-0.3, 1.81,0.35, 1.814,0.6, 1.817,-0.57, 1.821,0.3, 1.826,-0.3, 1.83,0.3, 1.835,-0.28, 1.84,0.3, 1.845,-0.25, 1.85,0.25, 1.854,0.5, 1.857,-0.25, 1.862,0.22, 1.867,-0.22, 1.872,0.2, 1.877,-0.2, 1.882,0.18, 1.885,-0.51, 1.889,0.12, 1.894,-0.12, 1.9,0.1, 1.906,-0.1, 1.912,0.1, 1.918,-0.1, 1.925,-0.33, 1.929,0.08, 1.935,-0.08, 1.941,0.1, 1.946,0.17, 1.949,-0.17, 1.955,0.05, 1.962,-0.04, 1.97,0.03, 1.98,-0.02, 1.995,0.005, 2.01,-0.005, 2.025,0.005, 2.035,-0.02,
2.04,0.05, 2.045,-0.08, 2.05,0.12, 2.054,-0.15, 2.058,0.2, 2.062,-0.25, 2.066,0.3, 2.069,0.85, 2.072,-0.75, 2.076,0.3, 2.078,-0.64, 2.082,0.3, 2.086,-0.3, 2.09,0.3, 2.094,-0.3, 2.097,0.35, 2.1,0.79, 2.103,-0.4, 2.107,0.3, 2.111,-0.25, 2.115,0.3, 2.118,-0.25, 2.122,0.2, 2.126,-0.2, 2.13,-0.55, 2.134,0.15, 2.139,-0.15, 2.144,0.12, 2.15,-0.12, 2.156,0.1, 2.162,-0.08, 2.169,0.07, 2.176,-0.05, 2.184,0.04, 2.192,0.03, 2.195,-0.04, 2.205,0.01, 2.22,-0.005, 2.235,0.02, 2.24,-0.03, 2.245,0.01, 2.26,-0.005, 2.268,0.03, 2.272,-0.03, 2.278,0.005, 2.29,-0.02,
2.295,0.05, 2.3,-0.08, 2.305,0.1, 2.309,-0.12, 2.313,0.15, 2.317,-0.18, 2.321,0.2, 2.325,-0.2, 2.329,0.25, 2.333,-0.25, 2.337,0.25, 2.341,-0.3, 2.345,0.46, 2.348,-0.5, 2.352,0.3, 2.356,-0.3, 2.36,0.3, 2.364,-0.28, 2.367,0.46, 2.37,-0.51, 2.374,0.25, 2.378,-0.25, 2.382,0.25, 2.387,-0.22, 2.391,0.34, 2.394,-0.25, 2.399,0.22, 2.404,-0.2, 2.409,0.2, 2.414,-0.22, 2.419,0.2, 2.424,-0.2, 2.428,0.42, 2.431,-0.44, 2.435,0.2, 2.44,-0.2, 2.445,0.18, 2.45,-0.18, 2.455,0.2, 2.46,-0.2, 2.465,0.15, 2.47,-0.15, 2.475,0.12, 2.48,0.1, 2.483,-0.18, 2.487,0.12, 2.49,-0.15, 2.494,0.12, 2.5,-0.08, 2.506,0.06, 2.513,-0.05, 2.52,0.03, 2.53,-0.02, 2.545,0.005, 2.57,-0.005, 2.6,0.005, 2.62,-0.02,
2.626,0.05, 2.631,-0.08, 2.636,0.12, 2.641,-0.15, 2.646,0.2, 2.65,-0.25, 2.654,0.25, 2.658,-0.3, 2.661,0.76, 2.664,-0.54, 2.668,0.3, 2.672,-0.3, 2.676,0.3, 2.68,-0.28, 2.684,0.3, 2.688,-0.3, 2.692,0.25, 2.695,-0.3, 2.698,0.65, 2.701,-0.64, 2.705,0.2, 2.709,-0.2, 2.713,0.15, 2.717,-0.2, 2.721,0.15, 2.725,-0.15, 2.729,0.46, 2.732,-0.24, 2.737,0.12, 2.742,-0.1, 2.748,0.1, 2.754,-0.08, 2.76,0.08, 2.766,-0.07, 2.772,0.06, 2.778,-0.06, 2.784,0.05, 2.79,-0.05, 2.796,0.04, 2.802,-0.04, 2.808,0.05, 2.815,-0.06, 2.821,-0.09, 2.826,0.05, 2.833,-0.04, 2.84,0.04, 2.848,-0.03, 2.856,0.04, 2.864,-0.04, 2.872,0.04, 2.88,-0.03, 2.888,0.04, 2.898,0.07, 2.902,-0.04, 2.91,0.03, 2.92,-0.03, 2.93,0.02, 2.944,-0.01,
2.96,0.005, 2.99,-0.005, 3.02,0.005, 3.05,-0.005, 3.08,0.005, 3.088,0.02, 3.091,-0.02, 3.095,0.005, 3.12,-0.005, 3.15,0.005, 3.18,-0.005, 3.2,0.005, 3.22,-0.01,
3.226,0.05, 3.23,-0.08, 3.233,0.1, 3.236,0.24, 3.239,-0.15, 3.243,0.06, 3.248,-0.05, 3.253,0.03, 3.26,-0.01, 3.28,0.005, 3.3,-0.01, 3.306,0.04, 3.31,-0.05, 3.314,0.05, 3.318,-0.03, 3.325,0.005, 3.345,-0.005, 3.365,0.005, 3.385,-0.005, 3.4,0.03, 3.404,-0.03, 3.408,0.005, 3.42,-0.005, 3.44,0.02, 3.446,-0.04, 3.45,0.04, 3.455,-0.02,
3.465,0.05, 3.47,-0.08, 3.474,0.1, 3.478,-0.12, 3.482,0.15, 3.486,-0.15, 3.49,0.2, 3.493,-0.25, 3.496,0.61, 3.499,-0.43, 3.503,0.25, 3.507,-0.3, 3.511,0.3, 3.515,-0.3, 3.519,0.28, 3.523,-0.3, 3.527,0.3, 3.53,-0.35, 3.533,0.645, 3.536,-0.66, 3.54,0.2, 3.545,-0.18, 3.55,0.15, 3.555,-0.15, 3.56,0.12, 3.566,-0.1, 3.573,0.23, 3.576,-0.1, 3.583,0.05, 3.59,-0.03, 3.6,0.01,
3.62,-0.005, 3.65,0.005, 3.68,-0.005, 3.71,0.005, 3.74,-0.005, 3.77,0.005, 3.8,-0.005, 3.83,0.005, 3.86,-0.005, 3.89,0.005, 3.91,-0.02,
3.916,0.05, 3.92,-0.08, 3.925,0.1, 3.93,-0.1, 3.935,0.12, 3.94,-0.12, 3.945,0.1, 3.95,-0.1, 3.956,0.14, 3.96,-0.13, 3.966,0.08, 3.972,-0.06, 3.978,0.04, 3.985,-0.03, 3.995,0.01, 4.01,-0.01, 4.02,0.03, 4.026,-0.05, 4.031,0.08, 4.036,-0.1, 4.041,0.12, 4.045,-0.15, 4.048,0.3, 4.051,-0.23, 4.055,0.12, 4.06,-0.12, 4.065,0.1, 4.07,-0.1, 4.075,0.12, 4.079,0.17, 4.082,-0.08, 4.088,0.06, 4.095,-0.05, 4.103,0.03, 4.115,-0.01, 4.13,0.005, 4.15,-0.005, 4.165,0.02, 4.172,-0.05, 4.177,0.05, 4.182,-0.03, 4.19,0.005, 4.21,-0.005, 4.24,0.005, 4.27,-0.005, 4.29,0.01,
4.296,-0.04, 4.3,0.06, 4.305,-0.1, 4.309,0.12, 4.313,-0.15, 4.317,0.2, 4.321,-0.2, 4.325,0.25, 4.328,-0.3, 4.33,0.59, 4.333,-0.49, 4.337,0.3, 4.341,-0.3, 4.345,0.25, 4.349,-0.3, 4.353,0.3, 4.357,-0.35, 4.361,0.61, 4.364,-0.58, 4.368,0.25, 4.372,-0.25, 4.376,0.2, 4.38,-0.2, 4.385,0.2, 4.39,-0.22, 4.395,0.2, 4.401,0.385, 4.404,-0.3, 4.408,0.15, 4.413,-0.15, 4.418,0.12, 4.424,-0.12, 4.432,-0.3, 4.436,0.1, 4.442,-0.08, 4.448,0.08, 4.455,-0.06, 4.462,0.05, 4.47,-0.04, 4.478,0.03, 4.49,-0.01,
4.51,0.005, 4.54,-0.005, 4.57,0.005, 4.6,-0.005, 4.63,0.005, 4.66,-0.005, 4.69,0.005, 4.72,-0.005, 4.75,0.005, 4.78,-0.005, 4.805,0.01,
4.812,-0.04, 4.818,0.06, 4.824,-0.08, 4.83,0.1, 4.836,-0.12, 4.842,0.12, 4.847,0.13, 4.85,-0.19, 4.855,0.12, 4.86,-0.12, 4.865,0.15, 4.87,-0.15, 4.875,0.18, 4.88,-0.2, 4.885,0.2, 4.89,0.25, 4.893,-0.33, 4.897,0.2, 4.902,-0.25, 4.906,0.28, 4.91,0.49, 4.913,-0.3, 4.917,0.25, 4.92,-0.3, 4.923,-0.47, 4.927,0.2, 4.932,-0.2, 4.937,0.2, 4.942,-0.22, 4.947,0.2, 4.951,-0.2, 4.954,-0.38, 4.958,0.15, 4.963,-0.18, 4.968,0.15, 4.973,-0.15, 4.978,0.18, 4.983,-0.15, 4.988,0.15, 4.994,0.18, 4.997,-0.12, 5.0,0.05
];

const signals = [sigA, sigB, sigC, sigD];

// ---- layout (pixels) ----
const grids = [
  {left: 73,  top: 43,  width: 551, height: 366},
  {left: 720, top: 42,  width: 546, height: 368},
  {left: 77,  top: 548, width: 542, height: 369},
  {left: 722, top: 552, width: 543, height: 366}
];
const titlePos = [[348, 24], [979, 24], [347, 530], [987, 533]];
const captionPos = [[290, 493], [962, 492], [293, 1006], [963, 1006]];

const FONT = '"Liberation Sans", Arial, sans-serif';
const LINE = '#1f78cc';

function pairs(flat) {
  const out = [];
  for (let i = 0; i < flat.length; i += 2) out.push([flat[i], flat[i + 1]]);
  return out;
}
const yFmt = v => (v < 0 ? '\u2212' : '') + String(Math.abs(v));

const xAxes = [], yAxes = [], series = [], graphics = [];
grids.forEach((g, i) => {
  const common = {
    gridIndex: i, type: 'value', min: 0, max: 5, interval: 0.5,
    axisLine: {show: true, onZero: false, lineStyle: {color: '#000', width: 1}},
    axisTick: {show: true, inside: true, length: 5, lineStyle: {color: '#000'}},
    splitLine: {show: false}
  };
  xAxes.push(Object.assign({}, common, {
    position: 'bottom',
    axisLabel: {fontFamily: FONT, fontSize: 19, fontWeight: 'bold', color: '#000', margin: 11},
    name: xName, nameLocation: 'middle', nameGap: 40, nameMoveOverlap: false,
    nameTextStyle: {fontFamily: FONT, fontSize: 23, fontWeight: 'bold', color: '#000', padding: [0, 26, 0, 0]}
  }));
  const ycommon = {
    gridIndex: i, type: 'value', min: -1, max: 1, interval: 0.5,
    axisLine: {show: true, onZero: false, lineStyle: {color: '#000', width: 1}},
    axisTick: {show: true, inside: true, length: 5, lineStyle: {color: '#000'}},
    splitLine: {show: false}
  };
  yAxes.push(Object.assign({}, ycommon, {
    position: 'left',
    axisLabel: {fontFamily: FONT, fontSize: 18, fontWeight: 'bold', color: '#000', margin: 6, formatter: yFmt},
    name: yName, nameLocation: 'middle', nameGap: 40, nameRotate: 90, nameMoveOverlap: false,
    nameTextStyle: {fontFamily: FONT, fontSize: 26, fontWeight: 'bold', color: '#000'}
  }));
  series.push({
    type: 'line', xAxisIndex: i, yAxisIndex: i,
    data: pairs(signals[i]),
    showSymbol: false, symbol: 'none', sampling: null, smooth: false,
    lineStyle: {color: LINE, width: 1.2},
    animation: false, silent: true, clip: true
  });
  graphics.push({
    type: 'text', x: titlePos[i][0], y: titlePos[i][1],
    style: {text: titles[i], font: 'bold 20px ' + FONT, fill: '#000', align: 'center', verticalAlign: 'middle'}
  });
  graphics.push({
    type: 'text', x: captionPos[i][0], y: captionPos[i][1],
    style: {text: captions[i], font: '22px "Liberation Serif", "DejaVu Serif", serif', fill: '#000', align: 'center', verticalAlign: 'middle'}
  });
});
// mirrored frame (box on): top and right axes without labels
grids.forEach((g, i) => {
  xAxes.push({
    gridIndex: i, type: 'value', min: 0, max: 5, interval: 0.5, position: 'top',
    axisLine: {show: true, onZero: false, lineStyle: {color: '#000', width: 1}},
    axisTick: {show: true, inside: true, length: 5, lineStyle: {color: '#000'}},
    axisLabel: {show: false}, splitLine: {show: false}
  });
  yAxes.push({
    gridIndex: i, type: 'value', min: -1, max: 1, interval: 0.5, position: 'right',
    axisLine: {show: true, onZero: false, lineStyle: {color: '#000', width: 1}},
    axisTick: {show: true, inside: true, length: 5, lineStyle: {color: '#000'}},
    axisLabel: {show: false}, splitLine: {show: false}
  });
});

const chart = echarts.init(document.getElementById('c'), null, {renderer: 'canvas'});
chart.setOption({
  backgroundColor: '#fff',
  animation: false,
  grid: grids.map(g => Object.assign({containLabel: false}, g)),
  xAxis: xAxes,
  yAxis: yAxes,
  series: series,
  graphic: graphics
});
</script>
</body></html>
